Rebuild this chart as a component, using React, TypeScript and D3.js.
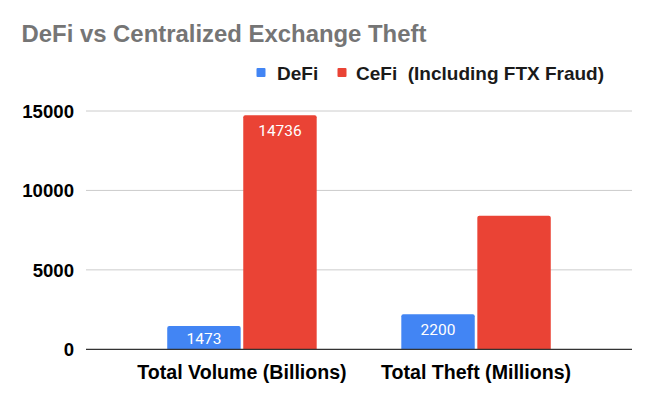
import * as d3 from 'd3';

const categories = ["Total Volume (Billions)", "Total Theft (Millions)"];
const seriesNames = ["DeFi", "CeFi"];
const defiValues = [1473, 2200];
const cefiValues = [14736, 8400];
// only some bars carry a value label in the original
const defiLabels: (string | null)[] = ["1473", "2200"];
const cefiLabels: (string | null)[] = ["14736", null];
const yTicks = [0, 5000, 10000, 15000];
const seriesColors = ["#4285F4", "#EA4335"];

const width = 653;
const height = 404;
const plotLeft = 86;
const plotRight = 632;
const plotTop = 111;
const plotBottom = 349.3;

const xScale = d3.scaleBand<string>()
    .domain(categories)
    .range([plotLeft, plotRight])
    .paddingInner(0.3615)
    .paddingOuter(0.347);

const xSub = d3.scaleBand<string>()
    .domain(seriesNames)
    .range([0, xScale.bandwidth()])
    .paddingInner(0.034);

const yScale = d3.scaleLinear()
    .domain([0, 15000])
    .range([plotBottom, plotTop]);

// bar with slightly rounded top corners
function barPath(x: number, y: number, w: number, y0: number, r: number) {
    const p = d3.path();
    p.moveTo(x, y0);
    p.lineTo(x, y + r);
    p.quadraticCurveTo(x, y, x + r, y);
    p.lineTo(x + w - r, y);
    p.quadraticCurveTo(x + w, y, x + w, y + r);
    p.lineTo(x + w, y0);
    p.closePath();
    return p.toString();
}

const boldFont = '"Liberation Sans", Arial, sans-serif';

export default function App() {
    const seriesValues = [defiValues, cefiValues];
    const seriesLabels = [defiLabels, cefiLabels];

    return (
        <svg width={width} height={height} style={{ position: 'absolute', left: 0, top: 0, background: '#fff' }}>
            <rect x={0} y={0} width={width} height={height} fill="#fff" />

            <text x={21.5} y={41.7} fontFamily={boldFont} fontWeight="bold" fontSize={23.9} fill="#757575">
                DeFi vs Centralized Exchange Theft
            </text>

            {/* legend */}
            <g fontFamily={boldFont} fontWeight="bold" fontSize={19} fill="#1a1a1a">
                <rect x={256.5} y={68} width={9} height={9} fill={seriesColors[0]} rx={1} />
                <text x={277} y={80}>{seriesNames[0]}</text>
                <rect x={337.5} y={68} width={9} height={9} fill={seriesColors[1]} rx={1} />
                <text x={356} y={80} style={{ whiteSpace: 'pre' }}>{seriesNames[1] + "  (Including FTX Fraud)"}</text>
            </g>

            {/* gridlines */}
            {yTicks.filter(t => t !== 0).map(t => (
                <line key={t} x1={plotLeft} x2={plotRight} y1={yScale(t)} y2={yScale(t)} stroke="#cccccc" strokeWidth={1} />
            ))}

            {/* y tick labels */}
            {yTicks.map(t => (
                <text key={"l" + t} x={74} y={yScale(t) + 6.7} textAnchor="end" fontFamily={boldFont} fontWeight="bold" fontSize={18.6} fill="#000">
                    {t}
                </text>
            ))}

            {/* bars */}
            {categories.map((c, i) => (
                <g key={c} transform={`translate(${xScale(c)},0)`}>
                    {seriesNames.map((s, j) => {
                        const v = seriesValues[j][i];
                        const x = xSub(s) as number;
                        const w = xSub.bandwidth();
                        const y = yScale(v);
                        const label = seriesLabels[j][i];
                        const labelY = Math.min(y + 21, (y + plotBottom) / 2 + 6);
                        return (
                            <g key={s}>
                                <path d={barPath(x, y, w, plotBottom, 2)} fill={seriesColors[j]} />
                                {label && (
                                    <text x={x + w / 2} y={labelY} textAnchor="middle" fontFamily="Roboto, sans-serif" fontSize={15.5} fill="#ffffff">
                                        {label}
                                    </text>
                                )}
                            </g>
                        );
                    })}
                </g>
            ))}

            {/* baseline */}
            <line x1={plotLeft} x2={plotRight} y1={plotBottom} y2={plotBottom} stroke="#333333" strokeWidth={1.2} />

            {/* category labels */}
            {categories.map(c => (
                <text key={"c" + c} x={(xScale(c) as number) + xScale.bandwidth() / 2} y={378.5} textAnchor="middle" fontFamily={boldFont} fontWeight="bold" fontSize={19.6} fill="#000">
                    {c}
                </text>
            ))}
        </svg>
    );
}
